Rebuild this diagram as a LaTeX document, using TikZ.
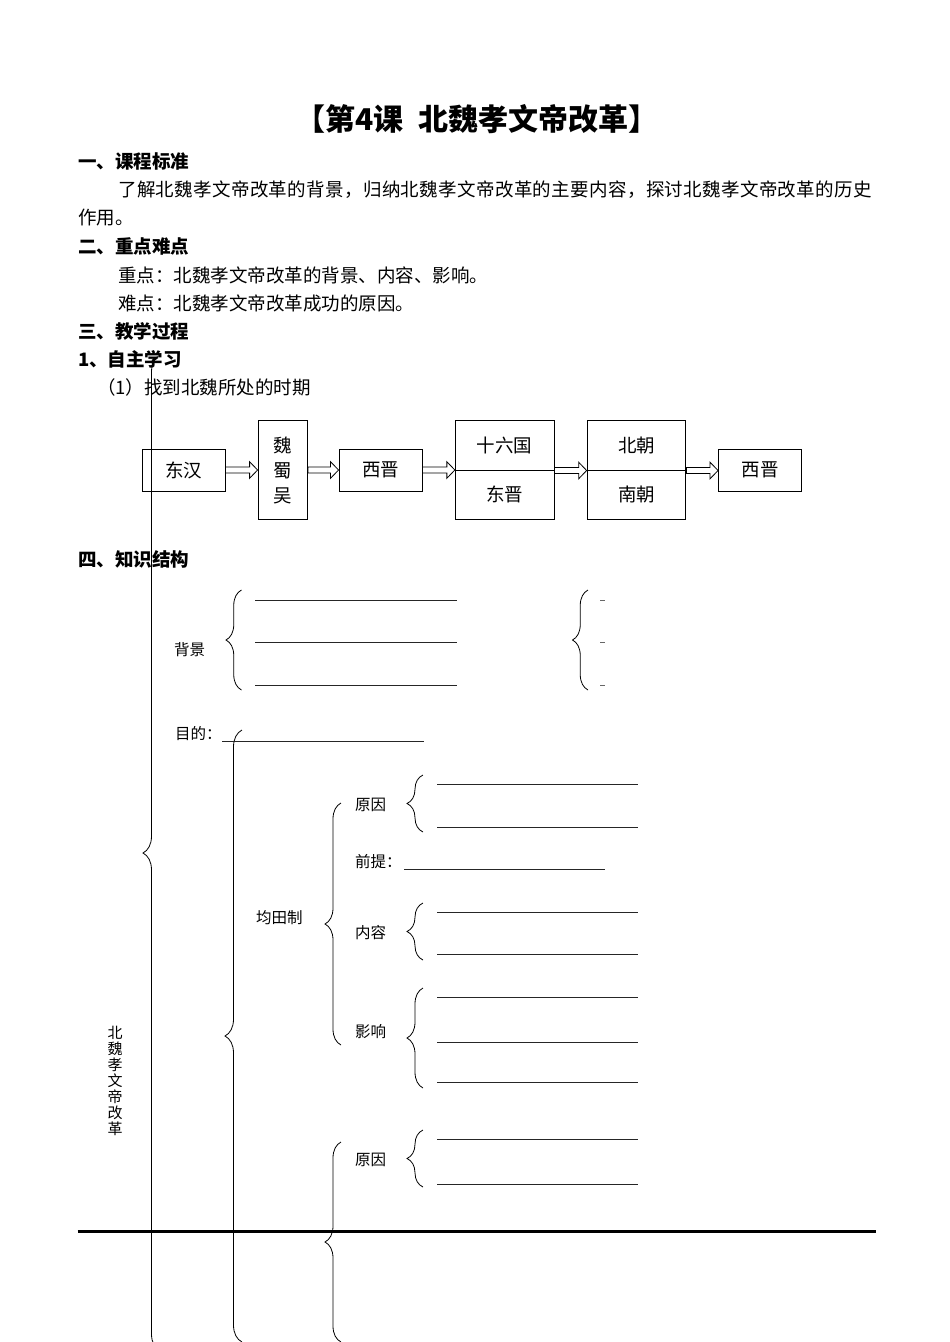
\documentclass[tikz,border=0pt]{standalone}
\usepackage{fontspec}
\setmainfont{Noto Sans CJK SC}
\usetikzlibrary{arrows.meta, positioning, calc, decorations.pathreplacing}

\begin{document}
\begin{tikzpicture}[x=1pt, y=-1pt,
  lesson/.style={inner sep=0pt, font=\fontsize{30}{32}\selectfont\bfseries},
  heading/.style={anchor=west, inner sep=0pt, font=\fontsize{18.5}{20}\selectfont\bfseries},
  body/.style={anchor=west, inner sep=0pt, font=\fontsize{18.5}{20}\selectfont},
  period/.style={draw, line width=0.9pt, minimum width=83pt, minimum height=42pt, inner sep=0pt, font=\fontsize{18.5}{20}\selectfont},
  tallperiod/.style={period, minimum width=49.5pt, minimum height=98.6pt, align=center, font=\fontsize{18.5}{25}\selectfont},
  halfperiod/.style={period, minimum width=98.8pt, minimum height=49.3pt},
  dblarrow/.style={line width=0.8pt},
  lbl/.style={anchor=west, inner sep=0pt, font=\fontsize{15.5}{17}\selectfont},
  blank/.style={line width=0.8pt, black!85},
  brc/.style={decorate, decoration={brace, amplitude=#1}, line width=0.8pt},
  brc/.default=16pt
]
  \useasboundingbox (0,0) rectangle (950,1342);

  % Title and text
  \node[lesson] (title) at (477,119) {【第4课\hspace{0.5em}北魏孝文帝改革】};
  \node[heading] (h1) at (78,161) {一、课程标准};
  \node[body] (std) at (118,190) {\addfontfeature{LetterSpace=1.9}了解北魏孝文帝改革的背景，归纳北魏孝文帝改革的主要内容，探讨北魏孝文帝改革的历史};
  \node[body] (std2) at (78,218) {作用。};
  \node[heading] (h2) at (78,246) {二、重点难点};
  \node[body] (key) at (118,275) {重点：北魏孝文帝改革的背景、内容、影响。};
  \node[body] (hard) at (118,303) {难点：北魏孝文帝改革成功的原因。};
  \node[heading] (h3) at (78,331) {三、教学过程};
  \node[heading] (h31) at (78,359) {1、自主学习};
  \node[body] (task) at (97,387) {（1）找到北魏所处的时期};

  % Periods
  \node[period] (dh) at (183.5,470) {东汉};
  \node[tallperiod] (wsw) at (282.8,470) {魏\\蜀\\吴};
  \node[period] (xj) at (380.5,470) {西晋};
  \node[halfperiod] (sl) at (504.7,445.4) {十六国};
  \node[halfperiod] (dj) at (504.7,494.6) {东晋};
  \node[halfperiod] (bc) at (636.5,445.4) {北朝};
  \node[halfperiod] (nc) at (636.5,494.6) {南朝};
  \node[period] (xj2) at (760,470) {西晋};

  \foreach \a/\b in {dh.east/wsw.west, wsw.east/xj.west, xj.east/sl.south west, sl.south east/bc.south west, bc.south east/xj2.west}
    \draw[dblarrow] let \p1=(\a), \p2=(\b) in
      (\x1,\y1+3pt) -- (\x2-8pt,\y1+3pt) -- (\x2-8pt,\y1+8.3pt) -- (\x2,\y1)
      -- (\x2-8pt,\y1-8.3pt) -- (\x2-8pt,\y1-3pt) -- (\x1,\y1-3pt) -- cycle;

  % Structure
  \node[heading] (h4) at (78,559) {四、知识结构};
  \node[font=\fontsize{15}{16}\selectfont, align=center, inner sep=0pt] (reform) at (115,1081) {北\\魏\\孝\\文\\帝\\改\\革};
  \draw[brc=17pt] (160,1351) -- (160,355);
  \draw[brc=17pt] (242,1342) -- (242,730);

  \node[lbl] (bg) at (174,650) {背景};
  \draw[brc=15.5pt] (241.5,690) -- (241.5,590);
  \draw[brc=15.5pt] (588,690) -- (588,590);
  \foreach \y in {600,642,685} {
    \draw[blank] (255,\y) -- (457,\y);
    \draw[blank, black!60] (600,\y) -- (605,\y);
  }

  \node[lbl] (aim) at (175,734) {目的：};
  \draw[blank] (222,741) -- (424,741);

  \node[lbl] (jtz) at (256,918) {均田制};
  \draw[brc] (341,1045) -- (341,803);
  \node[lbl] (cause) at (355,805) {原因};
  \draw[brc] (423,832) -- (423,775);
  \node[lbl] (premise) at (355,862) {前提：};
  \draw[blank] (404,869) -- (605,869);
  \node[lbl] (content) at (355,933) {内容};
  \draw[brc] (423,960) -- (423,903);
  \node[lbl] (effect) at (355,1032) {影响};
  \draw[brc] (423,1088) -- (423,988);
  \foreach \y in {784,827,912,954,997,1042,1082,1139,1184}
    \draw[blank] (437,\y) -- (638,\y);

  \draw[brc] (341,1342) -- (341,1142);
  \node[lbl] (cause2) at (355,1160) {原因};
  \draw[brc] (423,1187) -- (423,1130);

  \draw[line width=3pt] (77.6,1231.7) -- (876,1231.7);
\end{tikzpicture}
\end{document}
